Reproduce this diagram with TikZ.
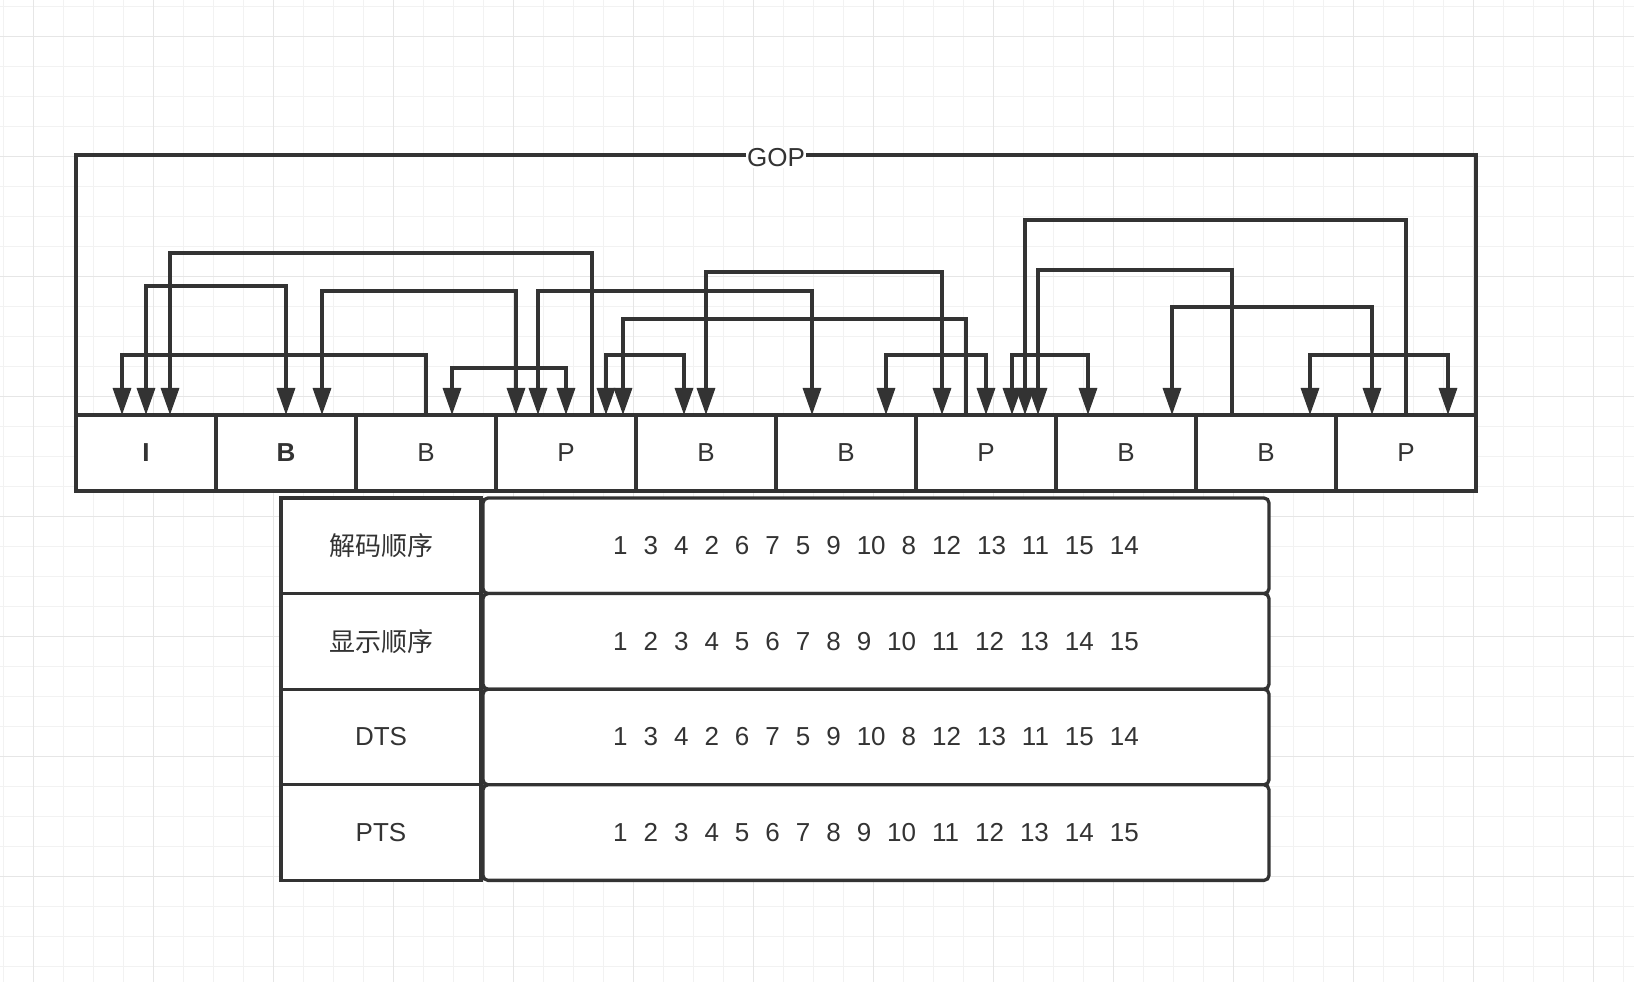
\documentclass[tikz,border=0pt]{standalone}
\usepackage{fontspec}
\setmainfont{Liberation Sans}
\newfontfamily\cjk{Noto Sans CJK SC}
\usepackage{tikz}
\usetikzlibrary{arrows.meta, positioning}
\definecolor{ink}{HTML}{333333}
\definecolor{gridminor}{HTML}{F2F2F2}
\definecolor{gridmajor}{HTML}{E6E6E6}
\tikzstyle{framebox} = [draw=ink, fill=white, line width=3.3pt, rectangle, minimum width=140pt, minimum height=76pt, inner sep=0pt, outer sep=0pt, text=ink]
\tikzstyle{labelcell} = [draw=ink, fill=white, line width=3.3pt, rectangle, minimum width=200pt, minimum height=95.6pt, inner sep=0pt, outer sep=0pt, text=ink]
\tikzstyle{valuecell} = [draw=ink, fill=white, line width=3.3pt, rectangle, rounded corners=5pt, minimum width=786pt, minimum height=95.6pt, inner sep=0pt, outer sep=0pt, text=ink, execute at begin node={\spaceskip=16pt\relax}]
\tikzstyle{oneway} = [draw=ink, line width=3.3pt, -{Triangle[width=18pt,length=27pt]}]
\tikzstyle{twoway} = [draw=ink, line width=3.3pt, {Triangle[width=18pt,length=27pt]}-{Triangle[width=18pt,length=27pt]}]
\tikzstyle{goptitle} = [fill=white, text=ink, inner sep=1pt, yshift=-3pt]

\begin{document}
\begin{tikzpicture}[x=1pt, y=1pt, font=\fontsize{26}{31}\selectfont]
	\useasboundingbox (0,0) rectangle (1634,982);
	\begin{scope}
		\clip (0,0) rectangle (1634,982);
		\draw[gridminor, line width=1pt, step=30, xshift=3.3pt, yshift=15.3pt] (-33.3,-45.3) grid (1660,1000);
		\draw[gridmajor, line width=1pt, step=120, xshift=33.3pt, yshift=105.3pt] (-153.3,-225.3) grid (1720,1000);
	\end{scope}

	\node[framebox] (fr1) at (146,529) {\bfseries I};
	\node[framebox, right=0pt of fr1] (fr2) {\bfseries B};
	\node[framebox, right=0pt of fr2] (fr3) {B};
	\node[framebox, right=0pt of fr3] (fr4) {P};
	\node[framebox, right=0pt of fr4] (fr5) {B};
	\node[framebox, right=0pt of fr5] (fr6) {B};
	\node[framebox, right=0pt of fr6] (fr7) {P};
	\node[framebox, right=0pt of fr7] (fr8) {B};
	\node[framebox, right=0pt of fr8] (fr9) {B};
	\node[framebox, right=0pt of fr9] (fr10) {P};

	\draw[draw=ink, line width=3.3pt] (fr1.north west) -- ++(0,260) coordinate (gopl) -- (gopl -| fr10.north east) node[midway, goptitle] {GOP} -- (fr10.north east);

	\draw[oneway] (fr3.north) -- ++(0,60) -| ([xshift=-24pt]fr1.north);
	\draw[twoway] (fr1.north) -- ++(0,129) -| (fr2.north);
	\draw[oneway] ([xshift=26pt]fr4.north) -- ++(0,162) -| ([xshift=24pt]fr1.north);
	\draw[twoway] ([xshift=36pt]fr2.north) -- ++(0,124) -| ([xshift=-50pt]fr4.north);
	\draw[twoway] ([xshift=26pt]fr3.north) -- ++(0,47) -| (fr4.north);
	\draw[twoway] ([xshift=-28pt]fr4.north) -- ++(0,124) -| ([xshift=-34pt]fr6.north);
	\draw[twoway] ([xshift=40pt]fr4.north) -- ++(0,60) -| ([xshift=-22pt]fr5.north);
	\draw[oneway] ([xshift=-20pt]fr7.north) -- ++(0,96) -| ([xshift=57pt]fr4.north);
	\draw[twoway] (fr5.north) -- ++(0,143) -| ([xshift=-44pt]fr7.north);
	\draw[twoway] ([xshift=40pt]fr6.north) -- ++(0,60) -| (fr7.north);
	\draw[oneway] (fr10.north) -- ++(0,195) -| ([xshift=39pt]fr7.north);
	\draw[oneway] ([xshift=-34pt]fr9.north) -- ++(0,145) -| ([xshift=52pt]fr7.north);
	\draw[twoway] ([xshift=26pt]fr7.north) -- ++(0,60) -| ([xshift=-38pt]fr8.north);
	\draw[twoway] ([xshift=46pt]fr8.north) -- ++(0,108) -| ([xshift=-34pt]fr10.north);
	\draw[twoway] ([xshift=44pt]fr9.north) -- ++(0,60) -| ([xshift=42pt]fr10.north);

	\node[labelcell] (dec) at (381,436.2) {\cjk 解码顺序};
	\node[labelcell, below=0pt of dec] (disp) {\cjk 显示顺序};
	\node[labelcell, below=0pt of disp] (dts) {DTS};
	\node[labelcell, below=0pt of dts] (pts) {PTS};
	\node[valuecell, right=2pt of dec] (decseq) {1 3 4 2 6 7 5 9 10 8 12 13 11 15 14};
	\node[valuecell, right=2pt of disp] (dispseq) {1 2 3 4 5 6 7 8 9 10 11 12 13 14 15};
	\node[valuecell, right=2pt of dts] (dtsseq) {1 3 4 2 6 7 5 9 10 8 12 13 11 15 14};
	\node[valuecell, right=2pt of pts] (ptsseq) {1 2 3 4 5 6 7 8 9 10 11 12 13 14 15};
\end{tikzpicture}
\end{document}
